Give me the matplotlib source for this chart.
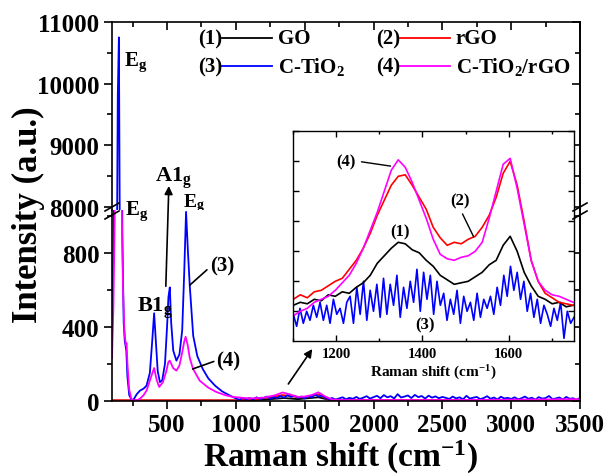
import numpy as np
import matplotlib
matplotlib.use('Agg')
import matplotlib.pyplot as plt
from matplotlib.lines import Line2D
from matplotlib.ticker import MultipleLocator

# FUENTES
plt.rcParams['font.family'] = ['Liberation Serif', 'DejaVu Serif']
plt.rcParams['font.weight'] = 'bold'
plt.rcParams['axes.labelweight'] = 'bold'
plt.rcParams['mathtext.fontset'] = 'custom'
plt.rcParams['mathtext.rm'] = 'Liberation Serif:bold'
plt.rcParams['mathtext.it'] = 'Liberation Serif:bold:italic'
plt.rcParams['mathtext.bf'] = 'Liberation Serif:bold'
plt.rcParams['axes.linewidth'] = 1.2

# DATOS - espectro completo (Raman shift cm-1, intensidad u.a.)
x_ctio2 = [100, 112, 125, 135, 142, 150, 157, 165, 175, 185, 193, 198, 204, 212, 225, 245, 260,
           280, 303, 330, 351, 375, 392, 406, 418, 432, 448, 465, 485, 500, 510, 520, 530,
           545, 568, 590, 610, 625, 638, 652, 665, 690, 720, 760, 800, 850, 900, 950]
y_ctio2 = [350, 900, 3000, 7000, 9800, 10750, 7500, 3000, 900, 420, 320, 300, 270, 130, 30, 0, 10,
           35, 54, 65, 81, 150, 320, 472, 330, 160, 100, 110, 200, 400, 560, 612, 420,
           270, 216, 250, 380, 700, 1020, 800, 620, 350, 240, 170, 120, 80, 50, 30]
# cola ruidosa del C-TiO2 de 1000 a 3500 cm-1, cada 25 cm-1
x_ctio2_tail = np.arange(1000, 3501, 25)
y_ctio2_tail = [12, 5, 15, 8, 14, 6, 18, 9, 13, 22, 10, 19, 14,
                25, 16, 30, 20, 27, 15, 22, 12, 24, 18, 33, 22, 28, 15,
                8, 14, 5, 12, 18, 7, 15, 10, 20, 9, 16, 24, 11, 19,
                26, 13, 30, 18, 24, 12, 35, 17, 22, 28, 14, 31, 19, 25, 11, 27, 16, 23, 13, 20,
                15, 9, 22, 12, 18, 7, 26, 11, 16, 20, 8, 14, 24, 10, 17, 6, 21, 12, 15, 9,
                18, 7, 13, 22, 10, 16, 5, 19, 11, 14, 25, 8, 12, 17, 6, 20, 10, 13, 4, 15]

x_comp = [100, 110, 118, 125, 132, 150, 165, 172, 180, 190, 200, 206, 212, 225, 240, 255, 280,
          303, 330, 351, 380, 406, 425, 443, 470, 495, 510, 520, 545, 568, 590, 610, 625, 635,
          650, 665, 689, 737, 800, 857, 920, 976, 1100, 1200, 1280, 1340, 1400, 1450, 1500,
          1550, 1600, 1650, 1700, 1800, 2000, 2500, 3000, 3500]
y_comp = [230, 500, 900, 1300, 1600, 1700, 1400, 1000, 600, 380, 300, 310, 200, 60, 10, 0, 2,
          10, 30, 54, 120, 176, 110, 74, 100, 160, 210, 216, 175, 162, 190, 260, 320, 345,
          300, 230, 171, 108, 70, 47, 30, 20, 12, 16, 28, 44, 32, 20, 22, 30, 45, 22, 6, 3,
          3, 3, 5, 8]

x_rgo = [100, 1000, 1150, 1250, 1340, 1420, 1480, 1540, 1600, 1660, 1750, 3500]
y_rgo = [2, 2, 8, 18, 30, 22, 18, 24, 34, 10, 4, 4]

x_go = [100, 1000, 1200, 1350, 1450, 1600, 1680, 3500]
y_go = [0, 0, 5, 14, 8, 18, 4, 2]

# DATOS - ampliación 1100-1750 cm-1
x_in = np.linspace(1100, 1750, 41)
y_go_in = [12, 13, 12.5, 14, 13.5, 15.5, 15, 16.5, 16, 18, 19.5, 22, 26, 28.5, 31, 33, 32.5,
           30.5, 29.5, 27, 25, 22, 20.5, 19, 19.5, 20, 21.5, 23, 25.5, 27, 32, 35, 30, 23,
           18.5, 15, 14, 12.5, 13, 11.5, 12]
y_rgo_in = [14, 15.5, 14.5, 16.5, 17, 18.5, 20, 21, 24, 27, 31, 36, 42, 47, 52, 55, 55.5,
            52, 48, 44, 38, 34.5, 32, 33, 32.5, 34, 35, 38, 42, 48, 56, 60, 52, 40, 27, 20,
            16, 14.5, 13, 12.5, 12]
y_comp_in = [8.5, 10, 11, 13, 14, 15, 17, 19.5, 22, 26, 31, 37, 43, 50, 57, 60.5, 58, 53,
             47, 41, 34, 29, 27.5, 27, 28, 28.5, 30, 33, 41, 50, 59, 61, 51, 39, 27, 20, 17,
             15.5, 15, 14, 13]
y_ctio2_in = [9, 5, 11, 6, 10, 7, 12,
              8, 13, 7, 12, 6, 14, 9, 11, 6, 13,
              15, 6, 18, 9, 20, 7, 17, 10, 19, 8,
              21, 9, 19, 12, 22, 8, 18, 11, 20, 13,
              24, 10, 23, 14, 22, 9, 20, 12,
              16, 7, 14, 9, 17, 6, 15, 10, 13, 7, 16, 8, 14, 11, 15, 9,
              18, 12, 22, 15, 25, 17, 23, 14,
              20, 10, 16, 8, 14, 6, 12, 9, 5, 11, 7, 13, 1, 10, 6, 8]
x_ctio2_in = np.linspace(1100, 1752, len(y_ctio2_in))

nums = ['(1)', '(2)', '(3)', '(4)']
names = ['GO', 'rGO', r'C-TiO$_\mathregular{2}$', r'C-TiO$_\mathregular{2}$/rGO']
colores = ['black', 'red', 'blue', 'magenta']

# FIGURA CON EJE Y CORTADO
fig = plt.figure(figsize=(6.07, 4.77), dpi=100)
W, H = 607.0, 477.0
L, R = 112 / W, 580 / W
ax_top = fig.add_axes([L, 1 - 211 / H, R - L, (211 - 23) / H])
ax_bot = fig.add_axes([L, 1 - 402 / H, R - L, (402 - 211) / H])

series = [(x_go, y_go), (x_rgo, y_rgo),
          (np.concatenate([x_ctio2, x_ctio2_tail]), np.concatenate([y_ctio2, y_ctio2_tail])),
          (x_comp, y_comp)]
for ax in (ax_top, ax_bot):
    for (xs, ys), c in zip(series, colores):
        ax.plot(xs, ys, color=c, lw=1.3)
    ax.set_xlim(100, 3500)

ax_top.set_ylim(7950, 11000)
ax_bot.set_ylim(-2, 1030)
ax_top.spines['bottom'].set_visible(False)
ax_bot.spines['top'].set_visible(False)

ax_bot.set_xticks([500, 1000, 1500, 2000, 2500, 3000, 3500])
ax_top.set_xticks([500, 1000, 1500, 2000, 2500, 3000, 3500])
for ax in (ax_top, ax_bot):
    ax.xaxis.set_minor_locator(MultipleLocator(250))
ax_top.set_yticks([8000, 9000, 10000, 11000])
ax_top.yaxis.set_minor_locator(MultipleLocator(500))
ax_bot.set_yticks([0, 400, 800])
ax_bot.yaxis.set_minor_locator(MultipleLocator(200))

ax_top.tick_params(axis='x', which='both', bottom=False, top=True, direction='in',
                   labelbottom=False)
ax_bot.tick_params(axis='x', which='both', top=False, direction='out')
for ax in (ax_top, ax_bot):
    ax.tick_params(axis='y', which='both', right=False, direction='out')
    ax.tick_params(which='major', length=6, width=1.2, labelsize=18, pad=3)
    ax.tick_params(which='minor', length=3.5, width=1.2)
    # marcas interiores en el borde derecho
    sec = ax.secondary_yaxis('right')
    sec.set_yticks(ax.get_yticks())
    sec.yaxis.set_minor_locator(MultipleLocator(500 if ax is ax_top else 200))
    sec.tick_params(which='both', direction='in', labelright=False, width=1.2)
    sec.tick_params(which='major', length=6)
    sec.tick_params(which='minor', length=3.5)
    sec.spines['right'].set_linewidth(1.2)

fig.text(341 / W, 1 - 457 / H, r'Raman shift (cm$^\mathregular{-1}$)', ha='center',
         va='center', fontsize=24, fontweight='bold')
fig.text(28 / W, 1 - 215 / H, 'Intensity (a.u.)', rotation=90, ha='center', va='center',
         fontsize=25, fontweight='bold')

# marcas de corte //
for xc in (112, 580):
    for yc in (208, 216):
        fig.add_artist(Line2D([(xc - 7) / W, (xc + 7) / W], [1 - (yc + 4) / H, 1 - (yc - 4) / H],
                              color='k', lw=1.2, transform=fig.transFigure))

# LEYENDA
for i, (n, lab, c) in enumerate(zip(nums, names, colores)):
    col, row = i % 2, i // 2
    x0 = [222, 400][col]
    y0 = 1 - [39, 67][row] / H
    fig.text(x0 / W, y0, n, ha='right', va='center', fontsize=15)
    fig.add_artist(Line2D([x0 / W, (x0 + 50) / W], [y0, y0], color=c, lw=1.3,
                          transform=fig.transFigure))
    fig.text((x0 + 56) / W, y0, lab, ha='left', va='center', fontsize=15)

# ETIQUETAS DE MODOS
ax_top.text(187, 10305, r'E$_\mathregular{g}$', fontsize=15, va='baseline', clip_on=False)
ax_bot.text(194, 1006, r'E$_\mathregular{g}$', fontsize=15, va='baseline', clip_on=False)
ax_top.text(411, 8422, r'A1$_\mathregular{g}$', fontsize=16, va='baseline', clip_on=False)
ax_top.text(614, 8016, r'E$_\mathregular{g}$', fontsize=14, va='baseline', clip_on=False)
ax_bot.text(281, 483, r'B1$_\mathregular{g}$', fontsize=16, va='baseline', clip_on=False)

flecha = dict(arrowstyle='-|>', color='k', lw=1.2, mutation_scale=12, shrinkA=0, shrinkB=0)
ax_bot.annotate('', xy=(513, 8340), xycoords=ax_top.transData, xytext=(491, 618),
                textcoords='data', arrowprops=flecha, annotation_clip=False)
ax_bot.annotate('', xy=(1555, 279), xytext=(1381, 90), arrowprops=flecha,
                annotation_clip=False)
ax_bot.annotate('(3)', xy=(665, 624), xytext=(810, 731), ha='left', va='center', fontsize=15,
                arrowprops=dict(arrowstyle='-', color='k', lw=1.2, relpos=(0, 0.4),
                                shrinkA=0, shrinkB=0))
ax_bot.annotate('(4)', xy=(686, 171), xytext=(860, 217), ha='left', va='center', fontsize=15,
                arrowprops=dict(arrowstyle='-', color='k', lw=1.2, relpos=(0, 0.5),
                                shrinkA=0, shrinkB=0))

# RECUADRO AMPLIADO
ax_in = fig.add_axes([293.3 / W, 1 - 342.3 / H, 280.7 / W, 210.6 / H])
ax_in.plot(x_ctio2_in, y_ctio2_in, color='blue', lw=1.2)
ax_in.plot(x_in, y_go_in, color='black', lw=1.2)
ax_in.plot(x_in, y_rgo_in, color='red', lw=1.2)
ax_in.plot(x_in, y_comp_in, color='magenta', lw=1.2)
ax_in.set_xlim(1100, 1752)
ax_in.set_ylim(0, 70.2)
ax_in.set_xticks([1200, 1400, 1600])
ax_in.xaxis.set_minor_locator(MultipleLocator(100))
ax_in.set_yticks([10, 20, 30, 40, 50, 60, 70])
ax_in.tick_params(which='both', direction='in', top=True, right=True, labelleft=False,
                  labelsize=10.5, pad=4, width=1)
ax_in.tick_params(which='major', length=4)
ax_in.tick_params(which='minor', length=2.5)
for s in ax_in.spines.values():
    s.set_linewidth(1)
ax_in.set_xlabel(r'Raman shift (cm$^\mathregular{-1}$)', fontsize=11, labelpad=2,
                 fontweight='bold')

linea = dict(arrowstyle='-', color='k', lw=1, shrinkA=2, shrinkB=0)
ax_in.annotate('(4)', xy=(1326, 58.4), xytext=(1223, 60.1), ha='center', va='center',
               fontsize=12, arrowprops=dict(linea, relpos=(1, 0.5)))
ax_in.annotate('(2)', xy=(1519, 34.8), xytext=(1487, 46.9), ha='center', va='center',
               fontsize=12, arrowprops=dict(linea, relpos=(0.5, 0)))
ax_in.text(1349, 36.6, '(1)', ha='center', va='center', fontsize=12)
ax_in.text(1407, 5.6, '(3)', ha='center', va='center', fontsize=12)

fig.savefig('out.png', dpi=100)
